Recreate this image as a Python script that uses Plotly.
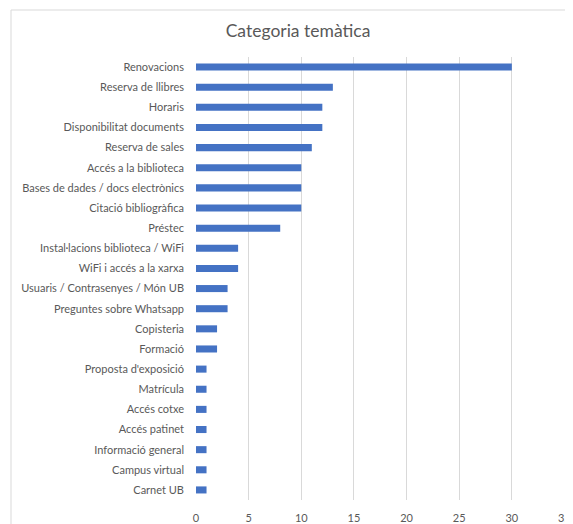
import plotly.graph_objects as go

categories = [
    "Renovacions", "Reserva de llibres", "Horaris", "Disponibilitat documents",
    "Reserva de sales", "Accés a la biblioteca", "Bases de dades / docs electrònics",
    "Citació bibliogràfica", "Préstec", "Instal·lacions biblioteca / WiFi",
    "WiFi i accés a la xarxa", "Usuaris / Contrasenyes / Món UB",
    "Preguntes sobre Whatsapp", "Copisteria", "Formació", "Proposta d'exposició",
    "Matrícula", "Accés cotxe", "Accés patinet", "Informació general",
    "Campus virtual", "Carnet UB",
]
values = [30, 13, 12, 12, 11, 10, 10, 10, 8, 4, 4, 3, 3, 2, 2, 1, 1, 1, 1, 1, 1, 1]
x_ticks = [0, 5, 10, 15, 20, 25, 30, 35]

FONT = "Lato"
GREY = "#595959"

fig = go.Figure(go.Bar(
    y=categories, x=values, orientation="h",
    marker=dict(color="#4472C4", line=dict(width=0)),
    width=0.35,
))

fig.update_layout(
    width=565, height=524,
    margin=dict(l=188, r=8, t=49, b=32),
    paper_bgcolor="white", plot_bgcolor="white",
    showlegend=False,
    font=dict(family=FONT, color=GREY, size=11),
    title=dict(text="Categoria temàtica", x=290 / 565, xref="container", xanchor="center",
               y=1 - 23 / 524, yref="container", yanchor="middle",
               font=dict(family=FONT, size=17.5, color=GREY)),
    xaxis=dict(range=[0, 35.05], tickvals=x_ticks, showgrid=True, gridcolor="#d9d9d9",
               gridwidth=1, zeroline=False, showline=False, automargin=False,
               ticklabeloverflow="allow",
               tickfont=dict(size=11, color=GREY), ticks="", ticklabelstandoff=10),
    yaxis=dict(autorange=False, range=[len(categories) - 0.5, -0.5], showgrid=False,
               zeroline=False, showline=False, ticks="", automargin=False,
               tickfont=dict(size=11, color=GREY), ticklabelstandoff=11),
    shapes=[dict(type="rect", xref="paper", yref="paper",
                 x0=(3 - 188) / 369, x1=1.2, y0=-0.2, y1=(492 - 2) / 443,
                 line=dict(color="#d9d9d9", width=1), fillcolor="rgba(0,0,0,0)",
                 layer="below")],
)

fig.write_html(
    "out.html",
    post_script="document.documentElement.style.overflow='hidden';"
                "document.body.style.overflow='hidden';",
)
